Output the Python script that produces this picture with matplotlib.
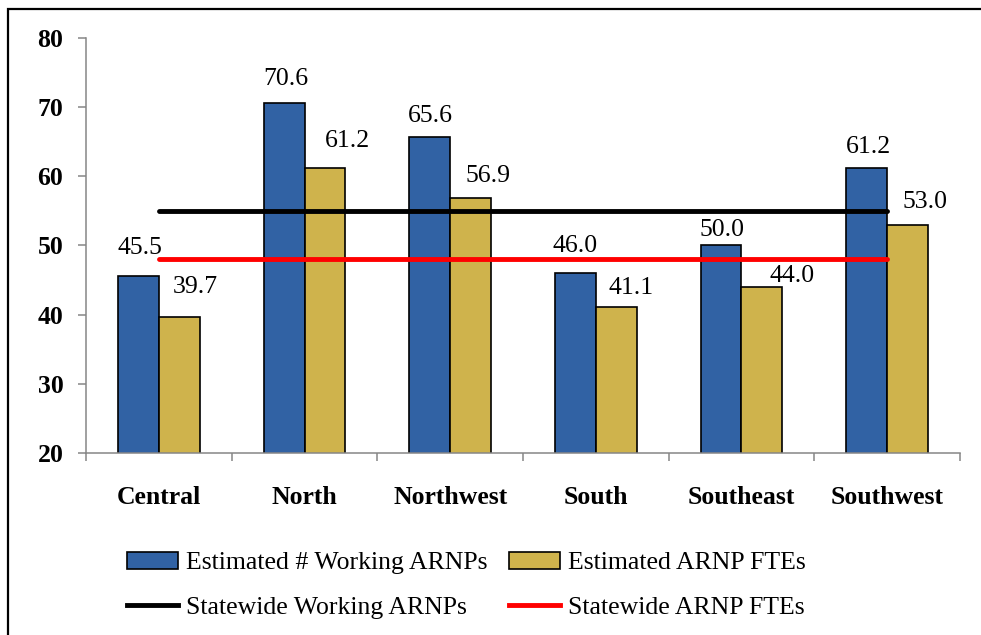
import matplotlib
matplotlib.use("Agg")
import matplotlib.pyplot as plt
import numpy as np
from matplotlib.patches import Rectangle, Patch
from matplotlib.lines import Line2D

categories = ["Central", "North", "Northwest", "South", "Southeast", "Southwest"]
working_arnps = [45.5, 70.6, 65.6, 46.0, 50.0, 61.2]
arnp_ftes = [39.7, 61.2, 56.9, 41.1, 44.0, 53.0]
statewide_working = 55.0
statewide_ftes = 48.1

series_names = ["Estimated # Working ARNPs", "Estimated ARNP FTEs",
                "Statewide Working ARNPs", "Statewide ARNP FTEs"]

# label placement (pixel offsets from bar top-centre: dx, baseline gap)
blue_label_offsets = [(1, 22), (2, 18), (1, 15), (0, 21), (1, 9), (1.5, 15)]
gold_label_offsets = [(16.5, 24), (23, 21), (17, 16), (15, 13), (30, 5), (17, 17)]

BLUE = "#3162A4"
GOLD = "#CFB34C"
GRAY = "#868686"
FONT = "Liberation Serif"
FS = 18.5

plt.rcParams["font.family"] = [FONT, "DejaVu Serif"]

fig = plt.figure(figsize=(9.81, 6.35), dpi=100)
W, H = 981, 635
ax = fig.add_axes([86 / W, 1 - 453 / H, (960 - 86) / W, (453 - 37.7) / H])

x = np.arange(len(categories))
bw = 0.28
ax.bar(x - bw / 2, working_arnps, bw, color=BLUE, edgecolor="black", linewidth=1.2, zorder=2)
ax.bar(x + bw / 2, arnp_ftes, bw, color=GOLD, edgecolor="black", linewidth=1.2, zorder=2)

ax.plot([x[0], x[-1]], [statewide_working] * 2, color="black", lw=3.5, zorder=3,
        solid_capstyle="round")
ax.plot([x[0], x[-1]], [statewide_ftes] * 2, color="#FF0000", lw=3.5, zorder=3,
        solid_capstyle="round")

px = 0.72  # points per pixel at 100 dpi
for xi, v, (dx, g) in zip(x, working_arnps, blue_label_offsets):
    ax.annotate(f"{v:.1f}", (xi - bw / 2, v), xytext=(dx * px, g * px), textcoords="offset points",
                ha="center", va="baseline", fontsize=FS, fontfamily=FONT, zorder=4)
for xi, v, (dx, g) in zip(x, arnp_ftes, gold_label_offsets):
    ax.annotate(f"{v:.1f}", (xi + bw / 2, v), xytext=(dx * px, g * px), textcoords="offset points",
                ha="center", va="baseline", fontsize=FS, fontfamily=FONT, zorder=4)

ax.set_xlim(-0.5, len(categories) - 0.5)
ax.set_ylim(20, 80)
ax.set_yticks(np.arange(20, 81, 10))
ax.set_yticklabels([str(t) for t in range(20, 81, 10)], fontsize=FS, fontweight="bold")

ax.set_xticks(np.arange(-0.5, len(categories), 1.0))
ax.set_xticklabels([])
ax.set_xticks(x, minor=True)
ax.set_xticklabels(categories, minor=True, fontsize=FS, fontweight="bold")
ax.tick_params(axis="x", which="major", direction="out", length=5.5, width=1.1, color=GRAY)
ax.tick_params(axis="x", which="minor", length=0, pad=24)
ax.tick_params(axis="y", direction="out", length=5.8, width=1.1, color=GRAY, pad=10.5)

for s in ["top", "right"]:
    ax.spines[s].set_visible(False)
for s in ["left", "bottom"]:
    ax.spines[s].set_color(GRAY)
    ax.spines[s].set_linewidth(1.1)

# outer chart border
fig.patches.append(Rectangle((8 / W, -0.2), 1.3, 1.2 - 9 / H, transform=fig.transFigure,
                             fill=False, edgecolor="black", linewidth=1.6, clip_on=False))

h_blue = Patch(facecolor=BLUE, edgecolor="black", linewidth=1.2)
h_gold = Patch(facecolor=GOLD, edgecolor="black", linewidth=1.2)
h_black = Line2D([], [], color="black", lw=3.5)
h_red = Line2D([], [], color="#FF0000", lw=3.5)
# column-wise fill: col1 = blue, black ; col2 = gold, red
leg = fig.legend([h_blue, h_black, h_gold, h_red],
                 [series_names[0], series_names[2], series_names[1], series_names[3]],
                 ncol=2, loc="upper left",
                 bbox_to_anchor=(127 / W, 1 - 552 / H), frameon=False,
                 prop={"family": FONT, "size": FS}, borderpad=0, borderaxespad=0,
                 handlelength=1.98, handleheight=0.62, handletextpad=0.3,
                 columnspacing=0.85, labelspacing=0.86)

fig.savefig("out.png", dpi=100)
